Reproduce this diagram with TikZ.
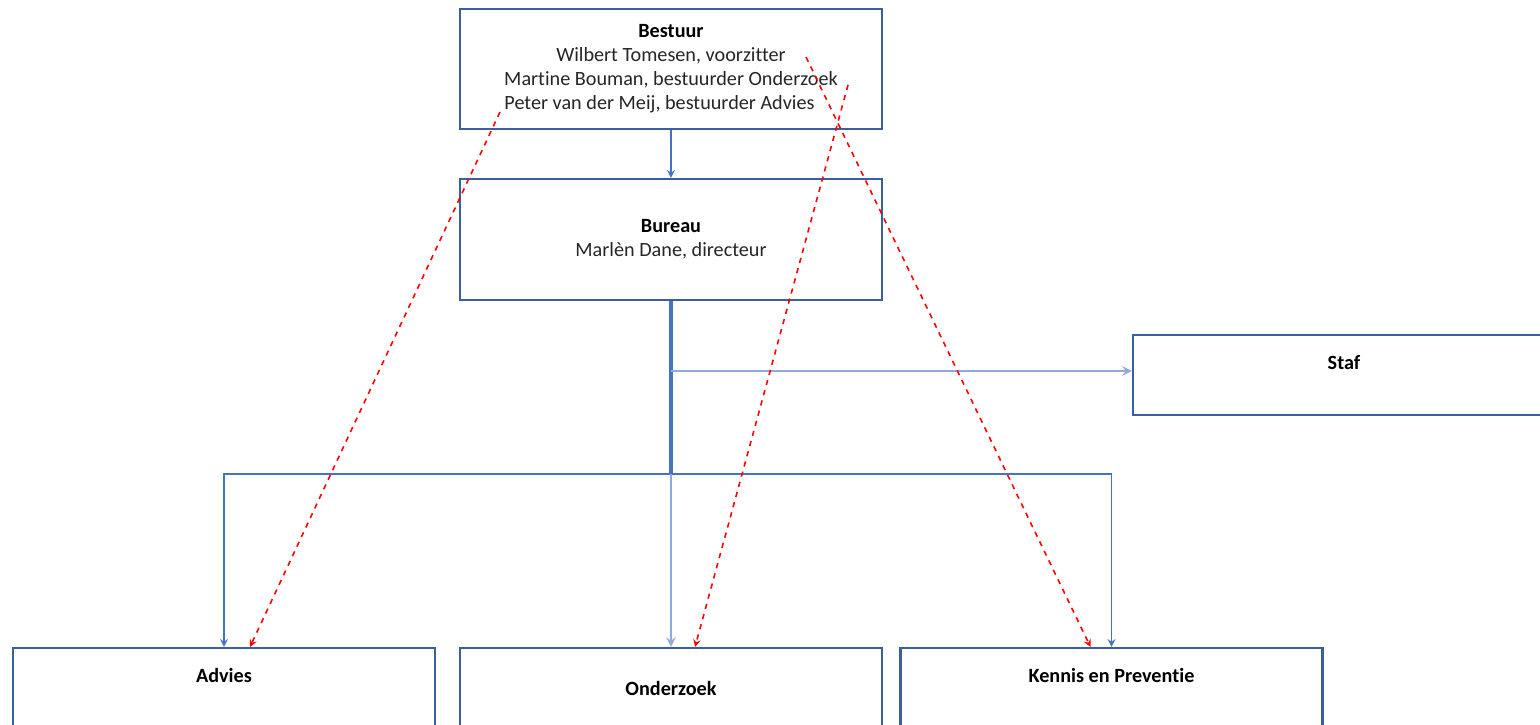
\documentclass[tikz,border=0pt]{standalone}
\usepackage{fontspec}
\setmainfont{Carlito}[Ligatures=NoCommon]
\usepackage{tikz}
\usetikzlibrary{calc,arrows}

\definecolor{lijnblauw}{HTML}{4472C4}
\definecolor{lichtblauw}{HTML}{8FAADC}
\definecolor{randblauw}{HTML}{3A5E9E}

\tikzset{
    orgbox/.style = {draw=randblauw, line width=1.2pt, fill=white, minimum width=8.44cm, inner sep=0pt, align=center, text=black!85},
    titel/.style = {font=\bfseries\fontsize{11.5}{13.6}\selectfont, text=black},
    lijn/.style = {draw=lijnblauw, line width=1pt},
    lijnlicht/.style = {draw=lichtblauw, line width=1.4pt},
    stippel/.style = {draw=red, dashed, line width=0.9pt}
}

\begin{document}
\begin{tikzpicture}[>=stealth]
        \useasboundingbox (0,0) rectangle (30.8,-14.5);
        \clip (0,0) rectangle (30.8,-14.5);

        \coordinate (bestuur) at (13.42,-1.38);
        \coordinate (bureau) at (13.42,-4.79);
        \coordinate (staf) at (26.88,-7.5);
        \coordinate (advies) at (4.48,-13.76);
        \coordinate (onderzoek) at (13.42,-13.76);
        \coordinate (kennis) at (22.23,-13.76);
        \coordinate (bus) at (13.42,-9.48);
        \coordinate (tak) at (13.42,-7.42);

        \node[orgbox, minimum height = 2.4cm, font=\fontsize{11.5}{13.6}\selectfont] (Bestuur) at (bestuur) {{\bfseries\color{black} Bestuur}\\Wilbert Tomesen, voorzitter\\Martine Bouman, bestuurder Onderzoek\\Peter van der Meij, bestuurder Advies\hspace*{0.46cm}};
        \node[orgbox, minimum height = 2.42cm, font=\fontsize{11.5}{13.6}\selectfont] (Bureau) at (bureau) {{\bfseries\color{black} Bureau}\\Marlèn Dane, directeur};
        \node[orgbox, minimum height = 1.6cm] (Staf) at (staf) {};
        \node[orgbox, minimum height = 1.6cm] (Advies) at (advies) {};
        \node[orgbox, minimum height = 1.6cm] (Onderzoek) at (onderzoek) {};
        \node[orgbox, minimum height = 1.6cm] (Kennis) at (kennis) {};

        \node[titel] (StafT) at ($(Staf.north)+(0,-0.58)$) {Staf};
        \node[titel] (AdviesT) at ($(Advies.north)+(0,-0.58)$) {Advies};
        \node[titel] (OnderzoekT) at (Onderzoek) {Onderzoek};
        \node[titel] (KennisT) at ($(Kennis.north)+(0,-0.58)$) {Kennis en Preventie};

        % lijnen van het bureau
        \path[lijn,->] (Bestuur) -- (Bureau);
        \path[draw=lijnblauw, line width=2.2pt] (Bureau.south) -- (bus);
        \path[lijnlicht,->] (tak) -- (tak -| Staf.west);
        \path[lijn,->] (bus) -| (Advies.north);
        \path[lijn,->] (bus) -| (Kennis.north);
        \path[lijnlicht,->] (bus) -- (Onderzoek.north);

        % bestuurders
        \path[stippel,->] ($(Bestuur)+(-3.42,-0.86)$) -- ($(Advies.north)+(0.52,0)$);
        \path[stippel,->] ($(Bestuur)+(3.54,-0.32)$) -- ($(Onderzoek.north)+(0.48,0)$);
        \path[stippel,->] ($(Bestuur)+(2.7,0.24)$) -- ($(Kennis.north)+(-0.42,0)$);
    \end{tikzpicture}
\end{document}
